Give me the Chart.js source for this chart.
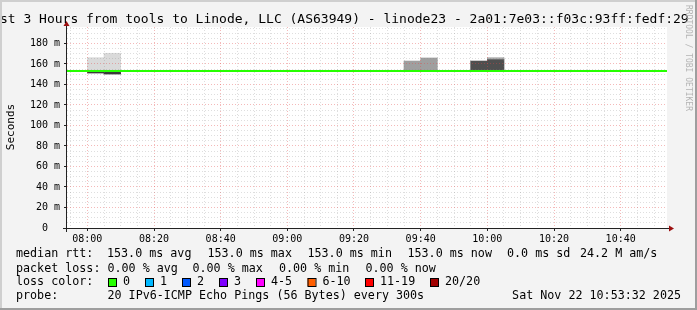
<!DOCTYPE html>
<html>
<head>
<meta charset="utf-8">
<script src="https://cdn.jsdelivr.net/npm/chart.js@4.4.0/dist/chart.umd.min.js"></script>
<style>
  html, body { margin: 0; padding: 0; background: #f3f3f3; }
  canvas { display: block; }
</style>
</head>
<body>
<canvas id="smokeChart" width="697" height="310"></canvas>
<script>
// ===== Data =====
// time is minutes after 08:00, values are rtt in ms
const windowStart = -6.1;
const windowEnd = 173.9;
const yMax = 196;

const xTickMinutes = [0, 20, 40, 60, 80, 100, 120, 140, 160];
const xTickLabels = ['08:00', '08:20', '08:40', '09:00', '09:20', '09:40', '10:00', '10:20', '10:40'];
const yTickValues = [0, 20, 40, 60, 80, 100, 120, 140, 160, 180];
const yTickLabels = ['0  ', '20 m', '40 m', '60 m', '80 m', '100 m', '120 m', '140 m', '160 m', '180 m'];

// median rtt line (flat over the whole window)
const medianTimes = [windowStart, windowEnd];
const medianRtt = [153.0, 153.0];

// smoke: each step is 5 minutes long, start time of step
const lightSmokeStart = [0, 5];
const lightSmokeLow = [152.6, 151.8];
const lightSmokeHigh = [166.1, 170.4];

const edgeSmokeStart = [0, 5];
const edgeSmokeLow = [151.1, 150.1];
const edgeSmokeHigh = [152.1, 151.8];

const midSmokeStart = [95, 100];
const midSmokeLow = [153.0, 153.0];
const midSmokeHigh = [162.8, 165.8];

const darkSmokeStart = [115, 120];
const darkSmokeLow = [153.0, 153.0];
const darkSmokeHigh = [162.8, 164.8];

const paleTopStart = [120];
const paleTopLow = [164.8];
const paleTopHigh = [166.1];

// legend texts
const titleText = 'Last 3 Hours from tools to Linode, LLC (AS63949) - linode23 - 2a01:7e03::f03c:93ff:fedf:29';
const rttStats = ['153.0 ms avg', '153.0 ms max', '153.0 ms min', '153.0 ms now', '0.0 ms sd', '24.2 M am/s'];
const lossStats = ['0.00 % avg', '0.00 % max', '0.00 % min', '0.00 % now'];
const lossLabels = ['0', '1', '2', '3', '4-5', '6-10', '11-19', '20/20'];
const lossColors = ['#26ff00', '#00b8ff', '#0059ff', '#7e00ff', '#ff00ff', '#ff5e00', '#ff0000', '#a10000'];
const probeText = '20 IPv6-ICMP Echo Pings (56 Bytes) every 300s';
const dateText = 'Sat Nov 22 10:53:32 2025';

// ===== Style =====
const MONO = '"DejaVu Sans Mono", monospace';
const STEP = 5;
const minorGrid = 'rgba(128,128,128,0.26)';
const majorGrid = 'rgba(225,70,70,0.38)';
const axisColor = '#222222';
const arrowColor = '#9c1010';

const rttStatX = [107, 207.5, 307.5, 407.5, 507, 580];
const lossStatX = [107.5, 192.5, 279, 365.5];
const swatchX = [108, 145, 182, 219, 256, 307.5, 365, 430];

// ===== Helpers =====
function toBars(starts, lows, highs) {
  return starts.map((s, i) => ({ x: s + STEP / 2, y: [lows[i], highs[i]] }));
}

function smokeDataset(data, color, order) {
  return {
    type: 'bar',
    data,
    backgroundColor: color,
    borderWidth: 0,
    stack: 'smoke',
    barPercentage: 1,
    categoryPercentage: 1,
    order
  };
}

function gridTicks(scale, from, to) {
  const ticks = [];
  for (let v = from; v <= to; v += STEP) ticks.push({ value: v });
  scale.ticks = ticks;
}

// ===== Frame plugin (background, title, axes, legend) =====
const rrdFrame = {
  id: 'rrdFrame',
  beforeDraw(chart) {
    const { ctx, chartArea: a } = chart;
    ctx.save();
    ctx.fillStyle = '#f3f3f3';
    ctx.fillRect(0, 0, chart.width, chart.height);
    ctx.fillStyle = '#ffffff';
    ctx.fillRect(a.left, a.top, a.right - a.left, a.bottom - a.top);
    ctx.restore();
  },
  afterDraw(chart) {
    const { ctx, chartArea: a } = chart;
    ctx.save();

    // axes
    ctx.strokeStyle = axisColor;
    ctx.lineWidth = 1;
    ctx.beginPath();
    ctx.moveTo(a.left - 4, a.bottom + 0.5);
    ctx.lineTo(a.right + 2, a.bottom + 0.5);
    ctx.moveTo(a.left - 0.5, a.bottom + 4);
    ctx.lineTo(a.left - 0.5, a.top - 1);
    ctx.stroke();

    ctx.fillStyle = arrowColor;
    ctx.beginPath();
    ctx.moveTo(a.right + 2, a.bottom - 2.5);
    ctx.lineTo(a.right + 7, a.bottom + 0.5);
    ctx.lineTo(a.right + 2, a.bottom + 3.5);
    ctx.fill();
    ctx.beginPath();
    ctx.moveTo(a.left - 3.5, a.top - 1);
    ctx.lineTo(a.left - 0.5, a.top - 6);
    ctx.lineTo(a.left + 2.5, a.top - 1);
    ctx.fill();

    // title
    ctx.fillStyle = '#000000';
    ctx.font = '13px ' + MONO;
    ctx.textBaseline = 'alphabetic';
    ctx.textAlign = 'left';
    ctx.fillText(titleText, -15.7, 23);

    // y axis title
    ctx.save();
    ctx.translate(11, 127);
    ctx.rotate(-Math.PI / 2);
    ctx.font = '11px ' + MONO;
    ctx.textAlign = 'center';
    ctx.textBaseline = 'middle';
    ctx.fillText('Seconds', 0, 0);
    ctx.restore();

    // legend
    ctx.font = '11.7px ' + MONO;
    ctx.textBaseline = 'middle';
    ctx.textAlign = 'left';
    ctx.fillText('median rtt:', 16, 254);
    rttStats.forEach((t, i) => ctx.fillText(t, rttStatX[i], 254));
    ctx.fillText('packet loss:', 16, 268.5);
    lossStats.forEach((t, i) => ctx.fillText(t, lossStatX[i], 268.5));
    ctx.fillText('loss color:', 16, 282);
    lossLabels.forEach((t, i) => {
      ctx.fillStyle = lossColors[i];
      ctx.fillRect(swatchX[i], 278, 8, 8);
      ctx.strokeStyle = '#000000';
      ctx.strokeRect(swatchX[i] + 0.5, 278.5, 8, 8);
      ctx.fillStyle = '#000000';
      ctx.fillText(t, swatchX[i] + 15, 282);
    });
    ctx.fillText('probe:', 16, 296);
    ctx.fillText(probeText, 107.5, 296);
    ctx.textAlign = 'right';
    ctx.fillText(dateText, 681, 296);

    // watermark
    ctx.save();
    ctx.translate(688, 5);
    ctx.rotate(Math.PI / 2);
    ctx.font = '8px ' + MONO;
    ctx.fillStyle = '#b4b4b4';
    ctx.textAlign = 'left';
    ctx.textBaseline = 'middle';
    ctx.fillText('RRDTOOL / TOBI OETIKER', 0, 0);
    ctx.restore();

    // frame shade
    ctx.fillStyle = '#cfcfcf';
    ctx.fillRect(0, 0, chart.width, 2);
    ctx.fillRect(0, 0, 2, chart.height);
    ctx.fillStyle = '#9e9e9e';
    ctx.fillRect(chart.width - 2, 0, 2, chart.height);
    ctx.fillRect(0, chart.height - 2, chart.width, 2);

    ctx.restore();
  }
};

// ===== Chart =====
const canvas = document.getElementById('smokeChart');

new Chart(canvas, {
  type: 'bar',
  data: {
    datasets: [
      {
        type: 'line',
        data: medianTimes.map((t, i) => ({ x: t, y: medianRtt[i] })),
        borderColor: '#26ff00',
        borderWidth: 2,
        pointRadius: 0,
        tension: 0,
        order: 0
      },
      smokeDataset(toBars(edgeSmokeStart, edgeSmokeLow, edgeSmokeHigh), '#3a3a3a', 1),
      smokeDataset(toBars(paleTopStart, paleTopLow, paleTopHigh), '#ababab', 1),
      smokeDataset(toBars(lightSmokeStart, lightSmokeLow, lightSmokeHigh), '#dadada', 2),
      smokeDataset(toBars(midSmokeStart, midSmokeLow, midSmokeHigh), '#9f9f9f', 2),
      smokeDataset(toBars(darkSmokeStart, darkSmokeLow, darkSmokeHigh), '#4f4f4f', 2)
    ]
  },
  options: {
    responsive: false,
    animation: false,
    events: [],
    layout: { padding: { top: 27, right: 30, bottom: 0, left: 0 } },
    plugins: {
      legend: { display: false },
      tooltip: { enabled: false }
    },
    scales: {
      x: {
        type: 'linear',
        min: windowStart,
        max: windowEnd,
        offset: false,
        afterFit: (s) => { s.height = 82; },
        afterBuildTicks: (s) => gridTicks(s, -5, 170),
        ticks: {
          autoSkip: false,
          maxRotation: 0,
          padding: 2,
          color: '#000000',
          font: { family: MONO, size: 10 },
          callback: (v) => {
            const i = xTickMinutes.indexOf(v);
            return i >= 0 ? xTickLabels[i] : '';
          }
        },
        grid: {
          z: 1,
          offset: false,
          tickLength: 3,
          color: (c) => (c.tick && c.tick.value % 20 === 0 ? majorGrid : minorGrid),
          tickColor: (c) => (c.tick && c.tick.value % 20 === 0 ? axisColor : 'rgba(0,0,0,0)')
        },
        border: { display: false, dash: [1, 2] }
      },
      y: {
        type: 'linear',
        min: 0,
        max: yMax,
        stacked: false,
        afterFit: (s) => { s.width = 67; },
        afterBuildTicks: (s) => gridTicks(s, 0, 195),
        ticks: {
          autoSkip: false,
          padding: 4,
          color: '#000000',
          font: { family: MONO, size: 10 },
          callback: (v) => {
            const i = yTickValues.indexOf(v);
            return i >= 0 ? yTickLabels[i] : '';
          }
        },
        grid: {
          z: 1,
          tickLength: 3,
          color: (c) => (c.tick && c.tick.value % 20 === 0 ? majorGrid : minorGrid),
          tickColor: (c) => (c.tick && c.tick.value % 20 === 0 ? axisColor : 'rgba(0,0,0,0)')
        },
        border: { display: false, dash: [1, 2] }
      }
    }
  },
  plugins: [rrdFrame]
});
</script>
</body>
</html>
